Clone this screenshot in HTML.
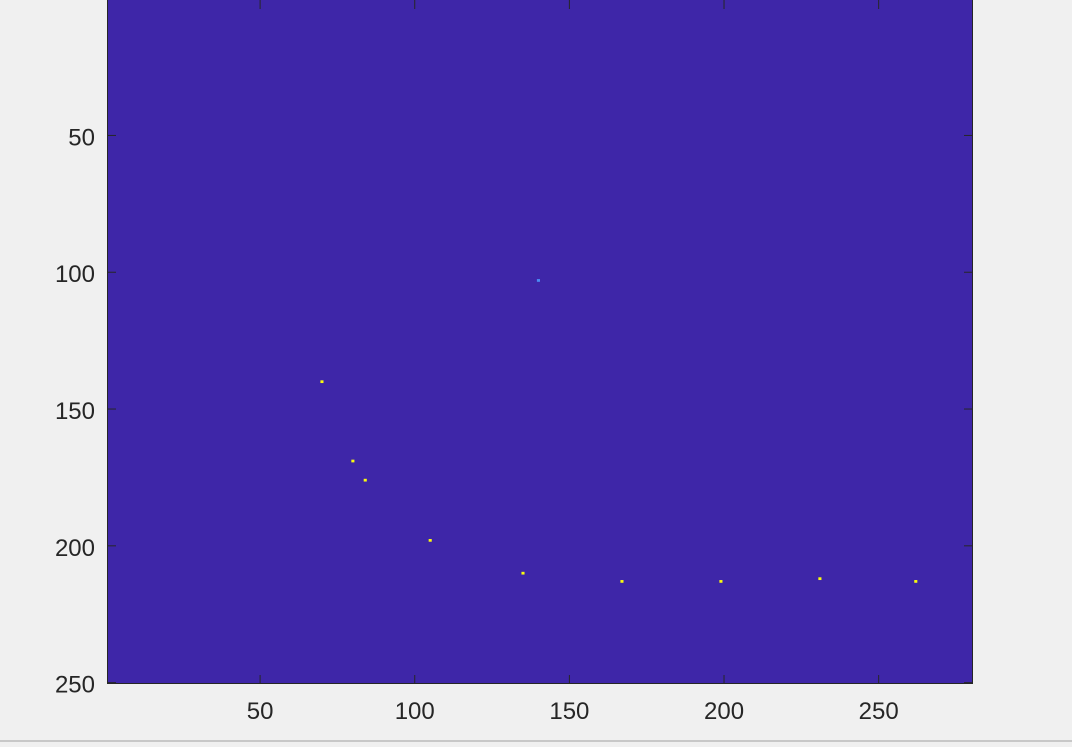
<!DOCTYPE html>
<html><head><meta charset="utf-8">
<style>
html,body{margin:0;padding:0;background:#f0f0f0;}
body{width:1072px;height:742px;overflow:hidden;font-family:"Liberation Sans",sans-serif;}
</style></head>
<body>
<svg id="chart" width="1072" height="742" xmlns="http://www.w3.org/2000/svg">
</svg>
<script>
const xTicks=[50,100,150,200,250];
const yTicks=[50,100,150,200,250];
const cellX=[70,80,84,105,135,167,199,231,262,140];
const cellY=[140,169,176,198,210,213,213,212,213,103];
const cellV=[1,1,1,1,1,1,1,1,1,0.5];

const L=107,R=973,T=0,B=684;
const xMin=0.5,xMax=280.5,yMin=0.5,yMax=250.5;
const sx=v=>L+(v-xMin)/(xMax-xMin)*(R-L);
const sy=v=>T+(v-yMin)/(yMax-yMin)*(B-T);
const NS="http://www.w3.org/2000/svg";
const svg=document.getElementById('chart');
function mk(t,a){const e=document.createElementNS(NS,t);for(const k in a)e.setAttribute(k,a[k]);svg.appendChild(e);return e;}
const bg=mk('rect',{x:L,y:T,width:R-L,height:B-T,fill:'#3e26a8'});


const cw=(R-L)/(xMax-xMin), ch=(B-T)/(yMax-yMin);
function color(v){return v>=1?'#f9fb0e':'#4a8cf5';}
for(let i=0;i<cellX.length;i++){
  const r=mk('rect',{x:sx(cellX[i]-0.5),y:sy(cellY[i]-0.5),width:cw,height:ch,fill:color(cellV[i])});
  
  
}
const frame=mk('rect',{x:L+0.5,y:T-1,width:R-L-1,height:B-T+0.5,fill:'none',stroke:'#262626','stroke-width':1});


for(const t of xTicks){
  const x=sx(t);
  mk('line',{x1:x,y1:B,x2:x,y2:B-9,stroke:'#262626'});
  mk('line',{x1:x,y1:T,x2:x,y2:T+9,stroke:'#262626'});
  const tx=mk('text',{x:x,y:B+35,'text-anchor':'middle','font-size':24,fill:'#262626'});
  tx.textContent=t;
  
  
}
for(const t of yTicks){
  const y=sy(t);
  mk('line',{x1:L,y1:y,x2:L+9,y2:y,stroke:'#262626'});
  mk('line',{x1:R,y1:y,x2:R-9,y2:y,stroke:'#262626'});
  const ty=mk('text',{x:L-12,y:y+10,'text-anchor':'end','font-size':24,fill:'#262626'});
  ty.textContent=t;
  
  
}
const bl=mk('rect',{x:0,y:740,width:1072,height:2,fill:'#c8c8c8'});


</script>
</body></html>
